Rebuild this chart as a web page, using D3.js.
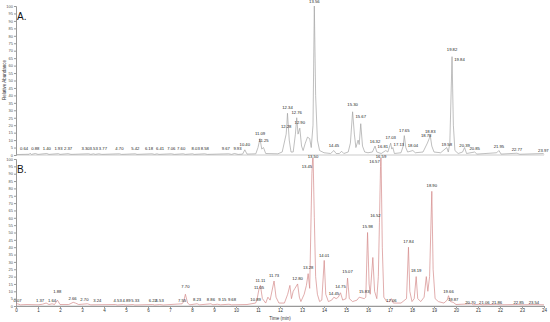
<!DOCTYPE html>
<html>
<head>
<meta charset="utf-8">
<script src="https://cdn.jsdelivr.net/npm/d3@7"></script>
<style>
  body { margin: 0; background: #fff; }
  svg { display: block; font-family: "Liberation Sans", Arial, sans-serif; }
</style>
</head>
<body>
<svg id="chart" width="550" height="322"></svg>
<script>
// chromatogram A, [time (min), relative abundance %]
var traceA = [[0,0.3],[0.6,0.5],[0.64,1.2],[0.7,0.4],[0.88,1],[1.0,0.4],[1.4,1],[1.5,0.4],[1.93,0.9],[2.0,0.4],[2.37,0.9],[2.5,0.4],
  [3.3,0.8],[3.4,0.4],[3.53,0.8],[3.6,0.4],[3.77,0.8],[3.9,0.4],[4.7,0.8],[4.8,0.4],[5.42,0.8],[5.5,0.4],[6.18,0.8],[6.3,0.4],
  [6.41,0.8],[6.5,0.4],[7.06,0.8],[7.2,0.4],[7.6,0.8],[7.7,0.4],[8.03,0.8],[8.1,0.4],[8.58,0.8],[8.7,0.4],[9.67,0.8],[9.8,0.4],
  [9.93,1],[10.1,0.4],[10.3,0.6],[10.4,3.5],[10.5,0.6],[10.9,0.8],[11.0,5],[11.09,11],[11.17,4],[11.25,5],[11.35,1],[11.9,0.8],
  [12.1,2],[12.22,10],[12.28,14],[12.31,20],[12.34,28],[12.42,10],[12.5,2],[12.6,2],[12.7,14],[12.76,25],[12.82,14],[12.9,18],
  [12.98,6],[13.05,3],[13.15,8],[13.25,12],[13.35,11],[13.42,5],[13.5,20],[13.56,100],[13.62,40],[13.7,10],[13.8,3],[14.0,1.5],
  [14.3,1],[14.45,3],[14.55,1],[14.7,1],[14.8,2.5],[14.9,1],[15.1,2],[15.2,8],[15.3,29],[15.38,14],[15.45,5],[15.55,10],[15.6,7],
  [15.67,21],[15.75,6],[15.85,2],[16.0,1.5],[16.2,2],[16.32,6],[16.4,2],[16.6,1],[16.81,3],[16.9,2],[17.03,8],[17.08,4],[17.13,5],
  [17.2,1],[17.5,1.5],[17.6,6],[17.65,13],[17.72,5],[17.8,2],[18.04,3],[18.15,1.5],[18.5,2],[18.7,8],[18.78,11],[18.83,13],[18.9,6],
  [19.0,2],[19.3,1.5],[19.5,4],[19.58,5],[19.65,2],[19.72,8],[19.82,66],[19.88,20],[19.95,3],[20.1,1],[20.3,2],[20.39,5],[20.48,1],
  [20.85,2],[20.95,0.6],[21.85,1.5],[21.95,3],[22.05,0.6],[22.77,1.2],[22.9,0.5],[23.97,1],[24,0.5]];

// chromatogram B
var traceB = [[0,0.8],[0.07,1.5],[0.2,0.8],[0.5,1],[1.0,0.8],[1.2,1.2],[1.37,2],[1.5,1],[1.64,1.5],[1.75,1],[1.88,4],[2.0,1],[2.4,1],
  [2.6,2.5],[2.7,2],[2.85,1],[3.24,1.5],[3.4,0.8],[4.53,1],[4.6,0.7],[4.89,1],[5.0,0.7],[5.33,1],[5.4,0.7],[6.22,1],[6.3,0.7],
  [6.53,1],[6.7,0.7],[7.55,1.5],[7.62,3],[7.7,8],[7.8,2],[7.9,0.8],[8.23,1.5],[8.35,0.8],[8.86,1.5],[8.95,0.8],[9.15,1.2],[9.3,0.8],
  [9.68,1.2],[9.8,0.8],[10.5,1],[10.89,2],[10.95,4],[11.05,12],[11.11,14],[11.2,5],[11.35,2],[11.45,6],[11.55,4],[11.73,17],
  [11.82,6],[11.95,2],[12.2,2],[12.35,8],[12.45,14],[12.52,5],[12.6,10],[12.68,12],[12.8,15],[12.88,6],[12.95,3],[13.1,8],[13.2,14],
  [13.28,22],[13.35,12],[13.45,90],[13.5,105],[13.56,60],[13.62,20],[13.7,8],[13.8,3],[13.9,4],[14.01,31],[14.08,8],[14.2,3],
  [14.35,4],[14.45,6],[14.55,5],[14.65,6],[14.75,9],[14.85,4],[15.0,5],[15.07,19],[15.15,5],[15.3,3],[15.5,4],[15.6,6],[15.83,5],
  [15.9,6],[15.98,50],[16.05,15],[16.1,8],[16.22,33],[16.3,10],[16.4,5],[16.47,20],[16.52,57],[16.57,95],[16.59,105],[16.65,40],
  [16.72,6],[16.85,3],[17.0,3],[17.06,5],[17.15,2],[17.5,2],[17.75,5],[17.84,40],[17.9,10],[18.0,3],[18.1,5],[18.19,20],[18.26,5],
  [18.4,3],[18.55,6],[18.65,20],[18.72,10],[18.8,20],[18.9,78],[18.96,25],[19.05,5],[19.2,3],[19.45,2],[19.6,4],[19.66,7],[19.75,3],
  [19.87,2.5],[20.0,1],[20.7,1.5],[20.8,0.8],[21.06,1.2],[21.2,0.8],[21.86,1.2],[22.0,0.8],[22.85,1],[23.0,0.8],[23.54,1],[24,0.8]];

// peak labels: [retention time, height of label in %]
var labelsA = [[0.64,3.4],[0.88,3.4],[1.40,3.4],[1.93,3.4],[2.37,3.4],[3.30,3.4],[3.53,3.4],[3.77,3.4],[4.70,3.4],[5.42,3.4],
  [6.18,3.4],[6.41,3.4],[7.06,3.4],[7.60,3.4],[8.03,3.4],[8.58,3.4],[9.67,3.4],[9.93,3.4],[10.40,6],[11.09,13.4],[11.25,8.7],
  [12.28,18],[12.34,31],[12.76,27.5],[12.90,21],[13.56,102],[14.45,5.4],[15.30,33],[15.67,25],[16.32,8],[16.81,4.7],[17.03,10.7],
  [17.13,6],[17.65,15.4],[18.04,5.4],[18.78,12],[18.83,14.8],[19.58,6],[19.82,70],[19.84,63],[20.39,5.4],[20.85,3.4],[21.95,4.7],
  [22.77,2.7],[23.97,2]];
var labelsB = [[0.07,2.7],[1.37,2.7],[1.64,2.7],[1.88,8.8],[2.66,4],[2.70,3.4],[3.24,2.7],[4.53,2.7],[4.89,2.7],[5.33,2.7],
  [6.22,2.7],[6.53,2.7],[7.55,2.7],[7.70,12],[8.23,3.4],[8.86,3.4],[9.15,3.4],[9.68,3.4],[10.89,3.4],[11.05,11.6],[11.11,16],
  [11.73,20],[12.80,17.7],[13.28,25],[13.45,94],[13.50,100.7],[14.01,33],[14.45,7.5],[14.75,12],[15.07,22.4],[15.83,8.8],
  [15.98,53],[16.52,60.5],[16.57,97],[16.59,101],[17.06,2.7],[17.84,43],[18.19,23],[18.90,81],[19.66,8.8],[19.87,3.4],
  [20.70,1.4],[21.06,1.4],[21.86,1.4],[22.85,1.4],[23.54,1.4]];

var yTicks = d3.range(0, 101, 5);
var xTicks = d3.range(0, 25, 1);

var svg = d3.select("#chart");
var x = d3.scaleLinear().domain([0, 24]).range([16, 544]);

// small horizontal nudges (px) so crowded labels don't collide
var nudgeA = { "0.64": -6, "3.30": -3, "3.77": 4, "6.18": -3, "6.41": 3, "7.60": -2, "8.03": 3,
               "9.67": -3, "9.93": 3, "16.81": -3, "17.13": 6, "18.78": -3, "19.84": 7 };
var nudgeB = { "1.37": -6, "2.66": -2, "2.70": 9, "3.24": 10, "4.53": 2, "4.89": 3, "5.33": 2,
               "9.15": 5, "9.68": 3, "13.45": -5, "16.57": -6, "16.52": -4, "20.70": -1, "21.06": 5 };

function panel(trace, labels, nudge, top, bottom, color, letter, clipId) {
    var y = d3.scaleLinear().domain([0, 100]).range([bottom, top]);
    var g = svg.append("g");

    g.append("clipPath").attr("id", clipId)
        .append("rect").attr("x", 16).attr("y", top - 1).attr("width", 530).attr("height", bottom - top + 2);

    var yAxis = d3.axisLeft(y).tickValues(yTicks).tickSize(2).tickPadding(1);
    var ya = g.append("g").attr("transform", "translate(16,0)").call(yAxis);
    ya.select(".domain").attr("stroke", "#999");
    ya.selectAll(".tick line").attr("stroke", "#999");
    ya.selectAll("text").attr("font-size", 4).attr("fill", "#555");

    g.append("line").attr("x1", 16).attr("x2", 544).attr("y1", bottom).attr("y2", bottom)
        .attr("stroke", "#aaa").attr("stroke-width", 0.6);

    var line = d3.line().x(function (d) { return x(d[0]); }).y(function (d) { return y(d[1]); });
    g.append("path").datum(trace)
        .attr("clip-path", "url(#" + clipId + ")")
        .attr("d", line).attr("fill", "none").attr("stroke", color).attr("stroke-width", 0.7);

    g.selectAll(".lab").data(labels).enter().append("text")
        .attr("class", "lab")
        .attr("x", function (d) { return x(d[0]) + (nudge[d[0].toFixed(2)] || 0); })
        .attr("y", function (d) { return y(d[1]); })
        .attr("text-anchor", "middle")
        .attr("font-size", 4.2).attr("fill", "#222")
        .text(function (d) { return d[0].toFixed(2); });

    g.append("text").attr("x", 17).attr("y", top + 14)
        .attr("font-size", 10).attr("fill", "#111").text(letter);
    return y;
}

panel(traceA, labelsA, nudgeA, 6, 155, "#a4a4a4", "A.", "clipA");
panel(traceB, labelsB, nudgeB, 159, 306, "#d48a8a", "B.", "clipB");

var xa = svg.append("g").attr("transform", "translate(0,306)")
    .call(d3.axisBottom(x).tickValues(xTicks).tickSize(2).tickPadding(1));
xa.select(".domain").attr("stroke", "#999");
xa.selectAll(".tick line").attr("stroke", "#999");
xa.selectAll("text").attr("font-size", 4.5).attr("fill", "#333");

svg.append("text").attr("x", 280).attr("y", 320).attr("text-anchor", "middle")
    .attr("font-size", 4.5).attr("fill", "#333").text("Time (min)");

svg.append("text").attr("transform", "translate(6,80) rotate(-90)")
    .attr("text-anchor", "middle").attr("font-size", 4.5).attr("fill", "#333")
    .text("Relative Abundance");
</script>
</body>
</html>
